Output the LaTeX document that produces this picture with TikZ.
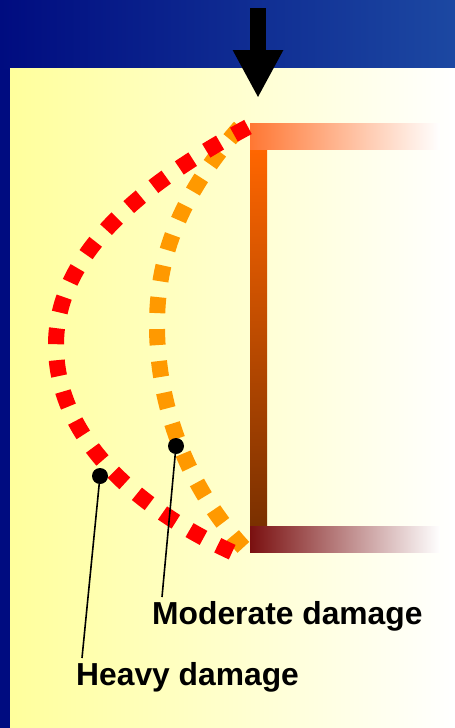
\documentclass[tikz,border=0pt]{standalone}
\usepackage{fontspec}
\setmainfont{Liberation Sans}
\usepackage{tikz}
\usetikzlibrary{arrows.meta,positioning}
\definecolor{dmnavy}{HTML}{000C80}
\definecolor{dmsky}{HTML}{1C48A2}
\definecolor{dmpale}{HTML}{FFFF9C}
\definecolor{dmorange}{HTML}{FF6600}
\definecolor{dmpeach}{HTML}{FF7733}
\definecolor{dmbrown}{HTML}{7A3000}
\definecolor{dmwine}{HTML}{7A1010}
\definecolor{dmred}{HTML}{FF0000}
\definecolor{dmamber}{HTML}{FF9900}
\tikzset{
  zone/.style={line width=16pt,dash pattern=on 16pt off 16pt},
  tag/.style={font=\fontsize{31.8}{36}\selectfont\bfseries,inner sep=0pt,anchor=base west},
  probe/.style={circle,fill=black,inner sep=0pt,minimum size=16pt},
  leader/.style={line width=1.6pt},
  load/.style={-{Triangle[length=48pt,width=47pt]},line width=16pt},
}

\begin{document}
\begin{tikzpicture}[x=1pt,y=-1pt]
  \useasboundingbox (0,0) rectangle (455,728);
  \fill[dmnavy] (0,0) rectangle (455,728);
  \shade[left color=dmnavy,right color=dmsky] (0,0) rectangle (455,68);
  \shade[left color=dmpale,right color=white] (10,68) rectangle (455,728);
  \shade[top color=dmorange,bottom color=dmbrown] (250,149) rectangle (267,526);
  \shade[left color=dmpeach,right color=white] (250,123) rectangle (440,149);
  \shade[left color=dmwine,right color=white] (250,526) rectangle (440,552);
  \coordinate (shaft) at (258,8);
  \coordinate (tip) at (258,98);
  \draw[load] (shaft) -- (tip);
  \draw[zone,dmamber] (240,127) .. controls (185,190) and (157,250) .. (157,325)
    .. controls (157,410) and (190,490) .. (244,548);
  \draw[zone,dmred] (248,127) .. controls (130,190) and (56,260) .. (56,345)
    .. controls (56,440) and (140,510) .. (234,553);
  \node[probe] (hdot) at (100,476) {};
  \node[probe] (mdot) at (176,446) {};
  \node[tag] (moderate) at (152,624) {Moderate damage};
  \node[tag] (heavy) at (76,685) {Heavy damage};
  \coordinate (mend) at (162,597);
  \coordinate (hend) at (82,658);
  \draw[leader] (mdot) -- (mend);
  \draw[leader] (hdot) -- (hend);
\end{tikzpicture}
\end{document}
